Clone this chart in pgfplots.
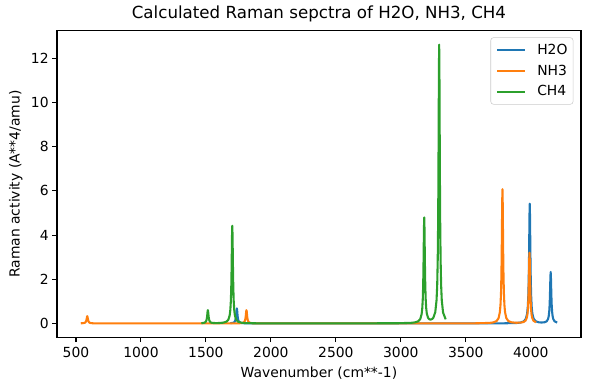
\documentclass[border=0pt]{standalone}
\usepackage{pgfplots}
\pgfplotsset{compat=1.18}
\usepackage{fontspec}
\setmainfont{DejaVu Sans}
\definecolor{c1}{HTML}{1F77B4}
\definecolor{c2}{HTML}{FF7F0E}
\definecolor{c3}{HTML}{2CA02C}
\begin{document}
\fontsize{10}{12}\selectfont
\begin{tikzpicture}
\begin{axis}[
 scale only axis, width=377.3pt, height=220.8pt,
 xmin=353.7, xmax=4386.3, ymin=-0.631, ymax=13.251,
 xtick={500,1000,...,4000}, ytick={0,2,...,12},
 tick pos=left, tick align=outside, major tick length=3.5pt,
 every tick/.style={black, line width=0.8pt},
 axis line style={line width=0.8pt},
 /pgf/number format/assume math mode=true,
 /pgf/number format/set thousands separator={},
 ticklabel style={font=\fontsize{10}{12}\selectfont},
 xticklabel style={anchor=base, inner sep=0pt, yshift=-10.9pt},
 yticklabel style={anchor=east, inner sep=0pt, xshift=-2.3pt},
 xlabel={Wavenumber (cm**-1)},
 ylabel={Raman activity (A**4/amu)},
 xlabel style={at={([yshift=-28.8pt]axis description cs:0.5,0)}, anchor=base, inner sep=0pt, font=\fontsize{10}{12}\selectfont},
 ylabel style={at={([xshift=-26.9pt]axis description cs:0,0.5)}, anchor=base, inner sep=0pt, font=\fontsize{10}{12}\selectfont},
 legend style={at={([xshift=-5.5pt,yshift=-4.8pt]axis description cs:1,1)}, anchor=north east,
   draw=black!20, rounded corners=2pt, fill=white, fill opacity=0.8, text opacity=1, draw opacity=1,
   font=\fontsize{10}{12}\selectfont, inner xsep=4pt, inner ysep=4.5pt, row sep=6pt, column sep=8pt,
   nodes={inner sep=0pt, text height=7.5pt, text depth=1.5pt}},
 legend cell align=left,
 legend image code/.code={\draw[#1] (0pt,0pt) -- (20pt,0pt);},
 every axis plot/.append style={line width=1.5pt, line join=round},
]
\addplot[c1] coordinates {
(1688,0.010) (1708,0.026) (1718,0.056) (1723,0.094) (1727,0.156) (1730,0.245) (1732,0.34) (1734,0.47) (1736,0.612) (1738,0.68)
(1740,0.612) (1742,0.47) (1744,0.34) (1746,0.245) (1749,0.156) (1753,0.094) (1758,0.056) (1768,0.026) (1783,0.012) (1808,0.005)
(2800,0.0) (3792,0.005) (3892,0.020) (3922,0.041) (3947,0.097) (3962,0.211) (3972,0.45) (3977,0.75) (3981,1.24) (3984,1.95)
(3986,2.71) (3988,3.75) (3990,4.88) (3992,5.42) (3994,4.88) (3996,3.75) (3998,2.71) (4000,1.95) (4003,1.245) (4007,0.75)
(4012,0.45) (4022,0.214) (4037,0.101) (4062,0.050) (4083,0.040) (4108,0.055) (4123,0.10) (4133,0.20) (4138,0.33) (4142,0.54)
(4145,0.84) (4147,1.17) (4149,1.61) (4151,2.10) (4153,2.33) (4155,2.10) (4157,1.61) (4159,1.17) (4161,0.84) (4164,0.54)
(4168,0.33) (4173,0.20) (4183,0.095) (4203,0.037)
};
\addlegendentry{H2O}
\addplot[c2] coordinates {
(537,0.005) (557,0.013) (567,0.027) (572,0.046) (576,0.076) (579,0.119) (581,0.165) (583,0.228) (585,0.297) (587,0.33)
(589,0.297) (591,0.228) (593,0.165) (595,0.119) (598,0.076) (602,0.046) (607,0.027) (617,0.013) (632,0.006) (657,0.002)
(1200,0.0) (1742,0.004) (1767,0.0105) (1782,0.023) (1792,0.05) (1797,0.083) (1801,0.137) (1804,0.216) (1806,0.30) (1808,0.415)
(1810,0.54) (1812,0.6) (1814,0.54) (1816,0.415) (1818,0.30) (1820,0.216) (1823,0.137) (1827,0.083) (1832,0.05) (1842,0.023)
(1857,0.0105) (1882,0.004) (2700,0.0) (3582,0.006) (3682,0.023) (3712,0.046) (3737,0.108) (3752,0.236) (3762,0.504) (3767,0.84)
(3771,1.39) (3774,2.19) (3776,3.04) (3778,4.21) (3780,5.47) (3782,6.08) (3784,5.47) (3786,4.21) (3788,3.04) (3790,2.19)
(3793,1.395) (3797,0.842) (3802,0.505) (3812,0.238) (3827,0.11) (3852,0.050) (3886,0.031) (3920,0.035) (3945,0.064) (3960,0.13)
(3970,0.27) (3975,0.448) (3979,0.74) (3982,1.158) (3984,1.605) (3986,2.22) (3988,2.885) (3990,3.205) (3992,2.885) (3994,2.22)
(3996,1.605) (3998,1.157) (4001,0.738) (4005,0.447) (4010,0.27) (4020,0.128) (4040,0.048)
};
\addlegendentry{NH3}
\addplot[c3] coordinates {
(1465,0.011) (1485,0.026) (1495,0.053) (1500,0.087) (1504,0.141) (1507,0.22) (1509,0.304) (1511,0.419) (1513,0.544) (1515,0.604)
(1517,0.544) (1519,0.419) (1521,0.304) (1523,0.225) (1526,0.142) (1530,0.088) (1535,0.055) (1545,0.03) (1560,0.018) (1585,0.016)
(1603,0.019) (1633,0.034) (1658,0.079) (1673,0.171) (1683,0.366) (1688,0.611) (1692,1.013) (1695,1.591) (1697,2.21) (1699,3.06)
(1701,3.98) (1703,4.42) (1705,3.98) (1707,3.06) (1709,2.21) (1711,1.59) (1714,1.012) (1718,0.61) (1723,0.365) (1733,0.17)
(1748,0.077) (1773,0.032) (1803,0.016) (1900,0.004) (2500,0.0) (2980,0.009) (3080,0.027) (3110,0.048) (3135,0.101) (3150,0.205)
(3160,0.419) (3165,0.685) (3169,1.12) (3172,1.747) (3174,2.416) (3176,3.33) (3178,4.32) (3180,4.80) (3182,4.33) (3184,3.34)
(3186,2.42) (3188,1.757) (3191,1.134) (3195,0.703) (3200,0.444) (3210,0.247) (3220,0.185) (3230,0.174) (3240,0.196) (3250,0.255)
(3265,0.509) (3275,1.06) (3280,1.757) (3284,2.907) (3287,4.555) (3289,6.32) (3291,8.744) (3293,11.36) (3295,12.62) (3297,11.36)
(3299,8.74) (3301,6.32) (3303,4.55) (3306,2.90) (3310,1.75) (3315,1.05) (3325,0.494) (3345,0.185)
};
\addlegendentry{CH4}
\coordinate (bl) at (rel axis cs:0,0);
\coordinate (tr) at (rel axis cs:1,1);
\coordinate (tt) at (rel axis cs:0.5,1);
\end{axis}
\node[anchor=base, inner sep=0pt, font=\fontsize{12}{14}\selectfont] at ([yshift=8.8pt]tt) {Calculated Raman sepctra of H2O, NH3, CH4};
\pgfresetboundingbox
\path ([xshift=-41pt,yshift=-37.9pt]bl) rectangle ([xshift=6.5pt,yshift=22.1pt]tr);
\end{tikzpicture}
\end{document}
